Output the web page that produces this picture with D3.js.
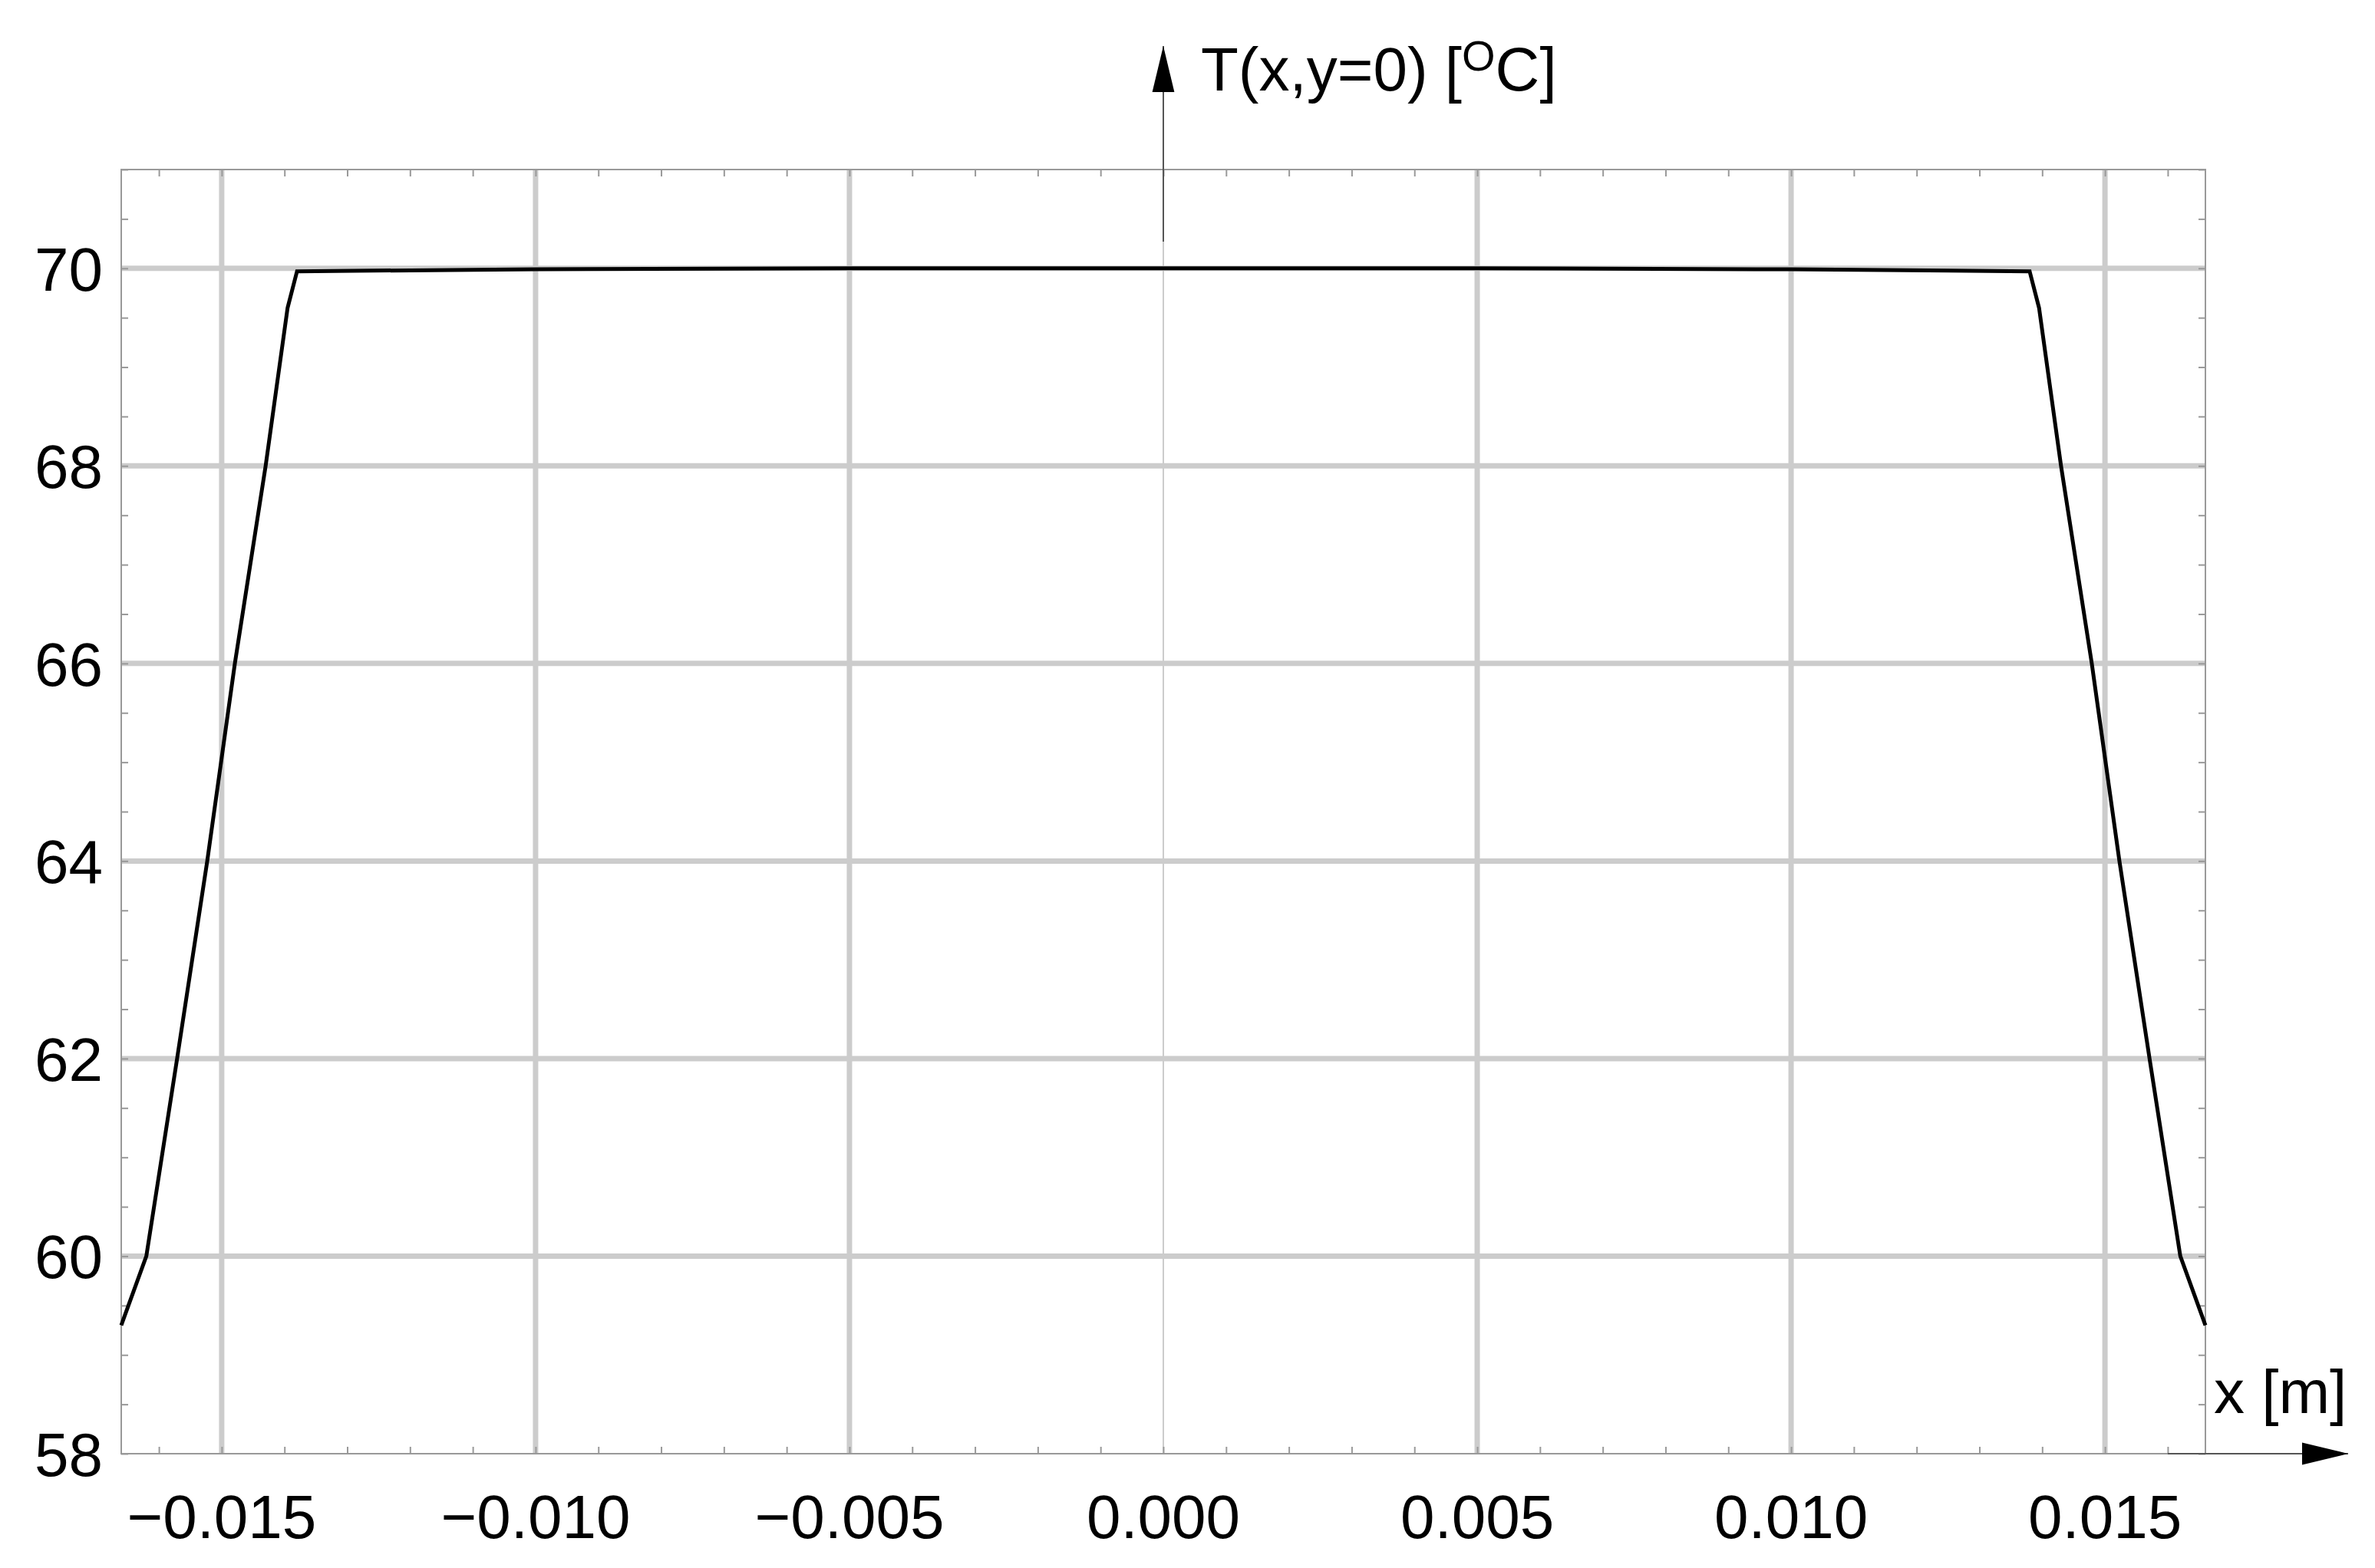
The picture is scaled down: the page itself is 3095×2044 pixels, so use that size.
<!DOCTYPE html>
<html>
<head>
<meta charset="utf-8">
<script src="https://cdn.jsdelivr.net/npm/d3@7"></script>
<style>
  body { margin: 0; background: #fff; }
  text { font-family: "Liberation Sans", Arial, sans-serif; }
</style>
</head>
<body>
<div id="chart"></div>
<script>
// temperature profile along y=0
const xs = [-0.0166, -0.0162, -0.01571, -0.01523, -0.01479, -0.0143, -0.01395, -0.0138,
            -0.010, -0.005, 0, 0.005, 0.010,
            0.0138, 0.01395, 0.0143, 0.01479, 0.01523, 0.01571, 0.0162, 0.0166]
const temps = [59.3, 60, 62, 64, 66, 68, 69.6, 69.97,
               69.99, 70.0, 70.0, 70.0, 69.99,
               69.97, 69.6, 68, 66, 64, 62, 60, 59.3]
const xTicks = [-0.015, -0.010, -0.005, 0, 0.005, 0.010, 0.015]
const yTicks = [58, 60, 62, 64, 66, 68, 70]

const width = 3095, height = 2044
const margin = {left: 158, right: 221, top: 221, bottom: 149}
const W = width - margin.left - margin.right
const H = height - margin.top - margin.bottom

const svg = d3.select("#chart").append("svg")
    .attr("width", width).attr("height", height)

const x = d3.scaleLinear().domain([-0.0166, 0.0166]).range([margin.left, margin.left + W])
const y = d3.scaleLinear().domain([58, 71]).range([margin.top + H, margin.top])

// grid
svg.append("g").selectAll("line").data(xTicks).join("line")
    .attr("x1", d => x(d)).attr("x2", d => x(d))
    .attr("y1", margin.top).attr("y2", margin.top + H)
    .attr("stroke", "#cccccc").attr("stroke-width", d => d === 0 ? 2 : 7)
svg.append("g").selectAll("line").data(yTicks.slice(1)).join("line")
    .attr("x1", margin.left).attr("x2", margin.left + W)
    .attr("y1", d => y(d)).attr("y2", d => y(d))
    .attr("stroke", "#cccccc").attr("stroke-width", 7)

// frame with minor ticks via axes
const minorX = d3.range(-16, 17).map(d => d / 1000)
const minorY = d3.range(58, 71.01, 0.5)
function styleAxis(g) {
    g.select(".domain").remove()
    g.selectAll("line").attr("stroke", "#999").attr("stroke-width", 2)
    g.selectAll("text").remove()
}
svg.append("g").attr("transform", `translate(0,${margin.top + H})`)
    .call(d3.axisTop(x).tickValues(minorX).tickSize(9)).call(styleAxis)
svg.append("g").attr("transform", `translate(0,${margin.top})`)
    .call(d3.axisBottom(x).tickValues(minorX).tickSize(9)).call(styleAxis)
svg.append("g").attr("transform", `translate(${margin.left},0)`)
    .call(d3.axisRight(y).tickValues(minorY).tickSize(9)).call(styleAxis)
svg.append("g").attr("transform", `translate(${margin.left + W},0)`)
    .call(d3.axisLeft(y).tickValues(minorY).tickSize(9)).call(styleAxis)
svg.append("rect")
    .attr("x", margin.left).attr("y", margin.top).attr("width", W).attr("height", H)
    .attr("fill", "none").attr("stroke", "#999").attr("stroke-width", 2)

// tick labels
svg.append("g").selectAll("text").data(xTicks).join("text")
    .attr("x", d => x(d)).attr("y", margin.top + H + 110)
    .attr("text-anchor", "middle").attr("font-size", 80)
    .text(d => d3.format(".3f")(d).replace("-", "\u2212"))
svg.append("g").selectAll("text").data(yTicks).join("text")
    .attr("x", 134).attr("y", d => y(d) + 29)
    .attr("text-anchor", "end").attr("font-size", 80)
    .text(d => d)

// arrows
svg.append("defs").append("marker")
    .attr("id", "arrow").attr("viewBox", "0 0 10 10").attr("refX", 10).attr("refY", 5)
    .attr("markerWidth", 60).attr("markerHeight", 60).attr("markerUnits", "userSpaceOnUse")
    .attr("orient", "auto")
    .append("path").attr("d", "M0,2.6L10,5L0,7.4Z").attr("fill", "#000")
svg.append("line")
    .attr("x1", x(0)).attr("x2", x(0)).attr("y1", 315).attr("y2", 60)
    .attr("stroke", "#555").attr("stroke-width", 2).attr("marker-end", "url(#arrow)")
svg.append("line")
    .attr("x1", x(0.0160)).attr("x2", 3060).attr("y1", y(58)).attr("y2", y(58))
    .attr("stroke", "#555").attr("stroke-width", 2).attr("marker-end", "url(#arrow)")

// curve
svg.append("path").datum(xs.map((d, i) => [d, temps[i]]))
    .attr("d", d3.line().x(d => x(d[0])).y(d => y(d[1])))
    .attr("fill", "none").attr("stroke", "#000").attr("stroke-width", 5)

// labels
svg.append("text").attr("x", 1565).attr("y", 118).attr("font-size", 80)
    .html('T(x,y=0) [<tspan dy="-26" font-size="56">O</tspan><tspan dy="26">C]</tspan>')
svg.append("text").attr("x", 2885).attr("y", 1842).attr("font-size", 80).text("x [m]")
</script>
</body>
</html>
